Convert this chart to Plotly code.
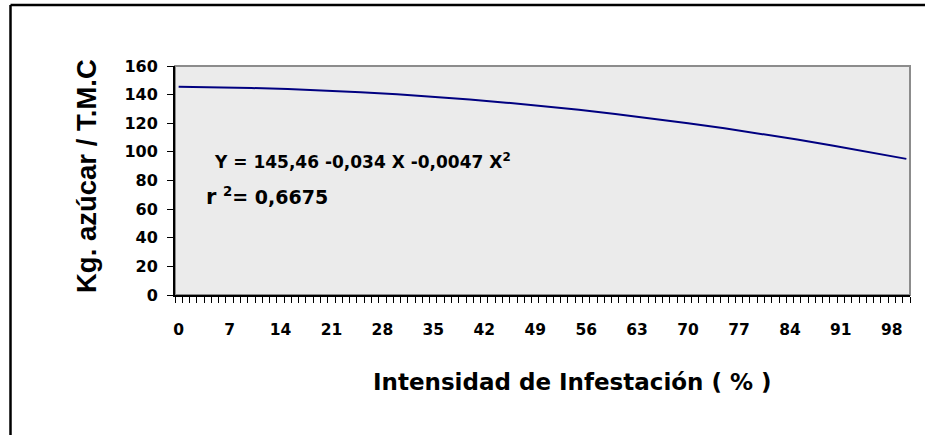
import plotly.graph_objects as go

# Kg. azúcar per T.M.C against infestation intensity
intensity = [0, 5, 10, 15, 20, 25, 30, 35, 40, 45, 50,
             55, 60, 65, 70, 75, 80, 85, 90, 95, 100]
kg_sugar = [145.5, 145.2, 144.6, 143.9, 142.9, 141.7, 140.2, 138.5, 136.6, 134.4, 132.0,
            129.4, 126.5, 123.4, 120.0, 116.5, 112.7, 108.6, 104.3, 99.8, 95.1]

x_tick_vals = [0, 7, 14, 21, 28, 35, 42, 49, 56, 63, 70, 77, 84, 91, 98]
x_tick_text = [str(v) for v in x_tick_vals]
y_tick_vals = [0, 20, 40, 60, 80, 100, 120, 140, 160]

equation = "Y = 145,46 -0,034 X -0,0047 X<sup>2</sup>"
r_squared = "<span style='font-size:21px'>r</span> <sup>2</sup>= 0,6675"

# plot area in pixels, used to place free text
L, R, T, B = 175, 910, 66, 295
W, H = 925, 435


def px(x):
    return (x - L) / (R - L)


def py(y):
    return (B - y) / (B - T)


bold = dict(family="DejaVu Sans", weight="bold", color="black")

fig = go.Figure(
    go.Scatter(
        x=intensity,
        y=kg_sugar,
        mode="lines",
        line=dict(color="#000080", width=2),
        hoverinfo="skip",
    )
)

fig.update_layout(
    width=W,
    height=H,
    margin=dict(l=L, r=W - R, t=T, b=H - B, pad=0),
    paper_bgcolor="white",
    plot_bgcolor="#ebebeb",
    showlegend=False,
    font=bold,
)

fig.update_xaxes(
    range=[-0.5, 100.5],
    tickmode="array",
    tickvals=x_tick_vals,
    ticktext=x_tick_text,
    ticks="",
    ticklabelstandoff=19,
    tickfont=dict(size=15.5, **bold),
    showgrid=False,
    zeroline=False,
    showline=True,
    linecolor="black",
    linewidth=2,
    minor=dict(ticks="outside", tickmode="linear", tick0=-0.5, dtick=1,
               ticklen=6, tickwidth=1, tickcolor="black", showgrid=False),
)

fig.update_yaxes(
    range=[0, 160],
    tickmode="array",
    tickvals=y_tick_vals,
    ticks="outside",
    ticklen=6,
    tickwidth=1,
    tickcolor="black",
    ticklabelstandoff=6,
    tickfont=dict(size=16, **bold),
    showgrid=False,
    zeroline=False,
    showline=True,
    linecolor="black",
    linewidth=2,
)

# gray frame on the top and right of the plot area
fig.add_shape(type="rect", xref="paper", yref="paper", x0=0, x1=1, y0=0, y1=1,
              line=dict(color="#8c8c8c", width=2), layer="below")
# outer chart border: only its left and top sides fall inside the picture
fig.add_shape(type="line", xref="paper", yref="paper",
              x0=px(10.5), x1=px(10.5), y0=py(H), y1=py(5),
              line=dict(color="black", width=2.5))
fig.add_shape(type="line", xref="paper", yref="paper",
              x0=px(10.5), x1=px(W), y0=py(5), y1=py(5),
              line=dict(color="black", width=2.5))

fig.add_annotation(text=equation, xref="paper", yref="paper",
                   x=px(212), y=py(161), xanchor="left", yanchor="middle",
                   showarrow=False, font=dict(size=17, **bold))
fig.add_annotation(text=r_squared, xref="paper", yref="paper",
                   x=px(204), y=py(196), xanchor="left", yanchor="middle",
                   showarrow=False, font=dict(size=19, **bold))
fig.add_annotation(text="Kg. azúcar / T.M.C", xref="paper", yref="paper",
                   x=px(86), y=py(176), xanchor="center", yanchor="middle",
                   textangle=-90, showarrow=False,
                   font=dict(size=27.5, family="Liberation Sans", weight="bold", color="black"))
fig.add_annotation(text="Intensidad de Infestación ( % )", xref="paper", yref="paper",
                   x=px(572), y=py(382), xanchor="center", yanchor="middle",
                   showarrow=False, font=dict(size=23, **bold))

# the page margin would push the chart 8px off its place
fig.write_html("out.html", config={"displayModeBar": False},
               post_script="document.body.style.margin = '0';")
